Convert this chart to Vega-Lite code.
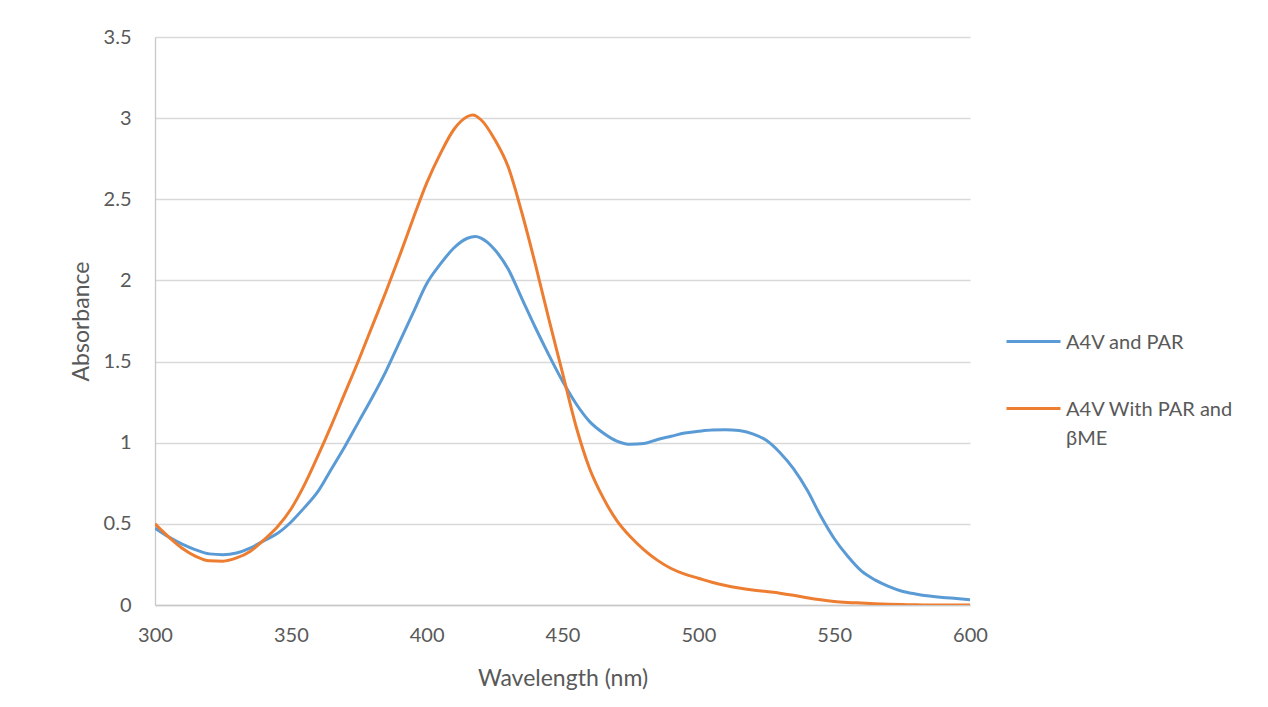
{
  "$schema": "https://vega.github.io/schema/vega-lite/v6.json",
  "width": 815,
  "height": 568,
  "autosize": {"type": "none"},
  "padding": {"left": 155, "top": 37, "right": 298, "bottom": 102},
  "background": "white",
  "config": {
    "view": {"stroke": null},
    "font": "Lato",
    "axis": {"labelFont": "Lato", "titleFont": "Lato", "labelColor": "#595959", "titleColor": "#595959", "labelFontSize": 20, "titleFontSize": 23, "titleFontWeight": "normal", "ticks": false, "gridColor": "#d9d9d9", "gridWidth": 1.3, "domainColor": "#c8c8c8", "domainWidth": 1.3},
    "legend": {"labelFont": "Lato", "labelColor": "#595959", "labelFontSize": 20}
  },
  "datasets": {
    "spectra": [
      {"wl": 300, "abs": 0.474, "series": "A4V and PAR"},
      {"wl": 305, "abs": 0.42, "series": "A4V and PAR"},
      {"wl": 310, "abs": 0.375, "series": "A4V and PAR"},
      {"wl": 315, "abs": 0.34, "series": "A4V and PAR"},
      {"wl": 320, "abs": 0.315, "series": "A4V and PAR"},
      {"wl": 325, "abs": 0.31, "series": "A4V and PAR"},
      {"wl": 330, "abs": 0.32, "series": "A4V and PAR"},
      {"wl": 335, "abs": 0.35, "series": "A4V and PAR"},
      {"wl": 340, "abs": 0.395, "series": "A4V and PAR"},
      {"wl": 345, "abs": 0.44, "series": "A4V and PAR"},
      {"wl": 350, "abs": 0.51, "series": "A4V and PAR"},
      {"wl": 355, "abs": 0.6, "series": "A4V and PAR"},
      {"wl": 360, "abs": 0.7, "series": "A4V and PAR"},
      {"wl": 365, "abs": 0.84, "series": "A4V and PAR"},
      {"wl": 370, "abs": 0.98, "series": "A4V and PAR"},
      {"wl": 375, "abs": 1.13, "series": "A4V and PAR"},
      {"wl": 380, "abs": 1.28, "series": "A4V and PAR"},
      {"wl": 385, "abs": 1.44, "series": "A4V and PAR"},
      {"wl": 390, "abs": 1.62, "series": "A4V and PAR"},
      {"wl": 395, "abs": 1.8, "series": "A4V and PAR"},
      {"wl": 400, "abs": 1.98, "series": "A4V and PAR"},
      {"wl": 405, "abs": 2.1, "series": "A4V and PAR"},
      {"wl": 410, "abs": 2.2, "series": "A4V and PAR"},
      {"wl": 415, "abs": 2.26, "series": "A4V and PAR"},
      {"wl": 418, "abs": 2.27, "series": "A4V and PAR"},
      {"wl": 420, "abs": 2.26, "series": "A4V and PAR"},
      {"wl": 425, "abs": 2.19, "series": "A4V and PAR"},
      {"wl": 430, "abs": 2.07, "series": "A4V and PAR"},
      {"wl": 435, "abs": 1.89, "series": "A4V and PAR"},
      {"wl": 440, "abs": 1.71, "series": "A4V and PAR"},
      {"wl": 445, "abs": 1.54, "series": "A4V and PAR"},
      {"wl": 450, "abs": 1.38, "series": "A4V and PAR"},
      {"wl": 455, "abs": 1.24, "series": "A4V and PAR"},
      {"wl": 460, "abs": 1.13, "series": "A4V and PAR"},
      {"wl": 465, "abs": 1.06, "series": "A4V and PAR"},
      {"wl": 470, "abs": 1.01, "series": "A4V and PAR"},
      {"wl": 475, "abs": 0.99, "series": "A4V and PAR"},
      {"wl": 480, "abs": 0.995, "series": "A4V and PAR"},
      {"wl": 485, "abs": 1.02, "series": "A4V and PAR"},
      {"wl": 490, "abs": 1.04, "series": "A4V and PAR"},
      {"wl": 495, "abs": 1.06, "series": "A4V and PAR"},
      {"wl": 500, "abs": 1.07, "series": "A4V and PAR"},
      {"wl": 505, "abs": 1.078, "series": "A4V and PAR"},
      {"wl": 510, "abs": 1.08, "series": "A4V and PAR"},
      {"wl": 515, "abs": 1.075, "series": "A4V and PAR"},
      {"wl": 520, "abs": 1.055, "series": "A4V and PAR"},
      {"wl": 525, "abs": 1.015, "series": "A4V and PAR"},
      {"wl": 530, "abs": 0.94, "series": "A4V and PAR"},
      {"wl": 535, "abs": 0.84, "series": "A4V and PAR"},
      {"wl": 540, "abs": 0.71, "series": "A4V and PAR"},
      {"wl": 545, "abs": 0.55, "series": "A4V and PAR"},
      {"wl": 550, "abs": 0.41, "series": "A4V and PAR"},
      {"wl": 555, "abs": 0.3, "series": "A4V and PAR"},
      {"wl": 560, "abs": 0.21, "series": "A4V and PAR"},
      {"wl": 565, "abs": 0.155, "series": "A4V and PAR"},
      {"wl": 570, "abs": 0.115, "series": "A4V and PAR"},
      {"wl": 575, "abs": 0.085, "series": "A4V and PAR"},
      {"wl": 580, "abs": 0.068, "series": "A4V and PAR"},
      {"wl": 585, "abs": 0.055, "series": "A4V and PAR"},
      {"wl": 590, "abs": 0.046, "series": "A4V and PAR"},
      {"wl": 595, "abs": 0.04, "series": "A4V and PAR"},
      {"wl": 600, "abs": 0.033, "series": "A4V and PAR"},
      {"wl": 300, "abs": 0.5, "series": "A4V With PAR and βME"},
      {"wl": 305, "abs": 0.42, "series": "A4V With PAR and βME"},
      {"wl": 310, "abs": 0.35, "series": "A4V With PAR and βME"},
      {"wl": 315, "abs": 0.3, "series": "A4V With PAR and βME"},
      {"wl": 320, "abs": 0.272, "series": "A4V With PAR and βME"},
      {"wl": 325, "abs": 0.27, "series": "A4V With PAR and βME"},
      {"wl": 330, "abs": 0.29, "series": "A4V With PAR and βME"},
      {"wl": 335, "abs": 0.33, "series": "A4V With PAR and βME"},
      {"wl": 340, "abs": 0.4, "series": "A4V With PAR and βME"},
      {"wl": 345, "abs": 0.48, "series": "A4V With PAR and βME"},
      {"wl": 350, "abs": 0.59, "series": "A4V With PAR and βME"},
      {"wl": 355, "abs": 0.74, "series": "A4V With PAR and βME"},
      {"wl": 360, "abs": 0.92, "series": "A4V With PAR and βME"},
      {"wl": 365, "abs": 1.11, "series": "A4V With PAR and βME"},
      {"wl": 370, "abs": 1.31, "series": "A4V With PAR and βME"},
      {"wl": 375, "abs": 1.51, "series": "A4V With PAR and βME"},
      {"wl": 380, "abs": 1.72, "series": "A4V With PAR and βME"},
      {"wl": 385, "abs": 1.93, "series": "A4V With PAR and βME"},
      {"wl": 390, "abs": 2.15, "series": "A4V With PAR and βME"},
      {"wl": 395, "abs": 2.38, "series": "A4V With PAR and βME"},
      {"wl": 400, "abs": 2.6, "series": "A4V With PAR and βME"},
      {"wl": 405, "abs": 2.78, "series": "A4V With PAR and βME"},
      {"wl": 410, "abs": 2.93, "series": "A4V With PAR and βME"},
      {"wl": 415, "abs": 3.01, "series": "A4V With PAR and βME"},
      {"wl": 417, "abs": 3.02, "series": "A4V With PAR and βME"},
      {"wl": 420, "abs": 2.99, "series": "A4V With PAR and βME"},
      {"wl": 425, "abs": 2.87, "series": "A4V With PAR and βME"},
      {"wl": 430, "abs": 2.7, "series": "A4V With PAR and βME"},
      {"wl": 435, "abs": 2.42, "series": "A4V With PAR and βME"},
      {"wl": 440, "abs": 2.1, "series": "A4V With PAR and βME"},
      {"wl": 445, "abs": 1.76, "series": "A4V With PAR and βME"},
      {"wl": 450, "abs": 1.43, "series": "A4V With PAR and βME"},
      {"wl": 455, "abs": 1.1, "series": "A4V With PAR and βME"},
      {"wl": 460, "abs": 0.84, "series": "A4V With PAR and βME"},
      {"wl": 465, "abs": 0.66, "series": "A4V With PAR and βME"},
      {"wl": 470, "abs": 0.52, "series": "A4V With PAR and βME"},
      {"wl": 475, "abs": 0.42, "series": "A4V With PAR and βME"},
      {"wl": 480, "abs": 0.34, "series": "A4V With PAR and βME"},
      {"wl": 485, "abs": 0.275, "series": "A4V With PAR and βME"},
      {"wl": 490, "abs": 0.225, "series": "A4V With PAR and βME"},
      {"wl": 495, "abs": 0.19, "series": "A4V With PAR and βME"},
      {"wl": 500, "abs": 0.165, "series": "A4V With PAR and βME"},
      {"wl": 505, "abs": 0.14, "series": "A4V With PAR and βME"},
      {"wl": 510, "abs": 0.12, "series": "A4V With PAR and βME"},
      {"wl": 515, "abs": 0.105, "series": "A4V With PAR and βME"},
      {"wl": 520, "abs": 0.093, "series": "A4V With PAR and βME"},
      {"wl": 525, "abs": 0.083, "series": "A4V With PAR and βME"},
      {"wl": 530, "abs": 0.073, "series": "A4V With PAR and βME"},
      {"wl": 535, "abs": 0.06, "series": "A4V With PAR and βME"},
      {"wl": 540, "abs": 0.045, "series": "A4V With PAR and βME"},
      {"wl": 545, "abs": 0.032, "series": "A4V With PAR and βME"},
      {"wl": 550, "abs": 0.022, "series": "A4V With PAR and βME"},
      {"wl": 555, "abs": 0.016, "series": "A4V With PAR and βME"},
      {"wl": 560, "abs": 0.012, "series": "A4V With PAR and βME"},
      {"wl": 565, "abs": 0.008, "series": "A4V With PAR and βME"},
      {"wl": 570, "abs": 0.005, "series": "A4V With PAR and βME"},
      {"wl": 575, "abs": 0.003, "series": "A4V With PAR and βME"},
      {"wl": 580, "abs": 0.001, "series": "A4V With PAR and βME"},
      {"wl": 590, "abs": 0.0, "series": "A4V With PAR and βME"},
      {"wl": 600, "abs": 0.0, "series": "A4V With PAR and βME"}
    ]
  },
  "data": {"name": "spectra"},
  "mark": {"type": "line", "strokeWidth": 3, "interpolate": "monotone", "clip": true},
  "encoding": {
    "x": {
      "field": "wl", "type": "quantitative",
      "scale": {"domain": [300, 600], "nice": false, "zero": false},
      "axis": {"values": [300, 350, 400, 450, 500, 550, 600], "grid": false, "labelPadding": 20, "title": "Wavelength (nm)", "titleX": 407.5, "titleY": 80, "titleBaseline": "alphabetic", "titleAlign": "center", "labelFlush": false}
    },
    "y": {
      "field": "abs", "type": "quantitative",
      "scale": {"domain": [0, 3.5], "nice": false},
      "axis": {"values": [0, 0.5, 1, 1.5, 2, 2.5, 3, 3.5], "format": "~g", "labelPadding": 24, "title": "Absorbance", "titleAngle": -90, "titleX": -67, "titleY": 284, "titleBaseline": "alphabetic", "titleAlign": "center", "labelFlush": false}
    },
    "color": {
      "field": "series", "type": "nominal",
      "scale": {"domain": ["A4V and PAR", "A4V With PAR and βME"], "range": ["#5b9bd5", "#ed7d31"]},
      "legend": {
        "title": null, "orient": "none", "legendX": 850, "legendY": 276, "direction": "vertical", "padding": 0,
        "symbolType": "stroke", "symbolSize": 2916, "symbolStrokeWidth": 3, "rowPadding": 27, "labelOffset": 4,
        "labelLimit": 400, "labelBaseline": "top",
        "labelExpr": "datum.label == 'A4V With PAR and βME' ? ['A4V With PAR and', 'βME'] : datum.label",
        "encode": {"labels": {"update": {"dy": {"value": -9}, "lineHeight": {"value": 29}}}}
      }
    }
  }
}
